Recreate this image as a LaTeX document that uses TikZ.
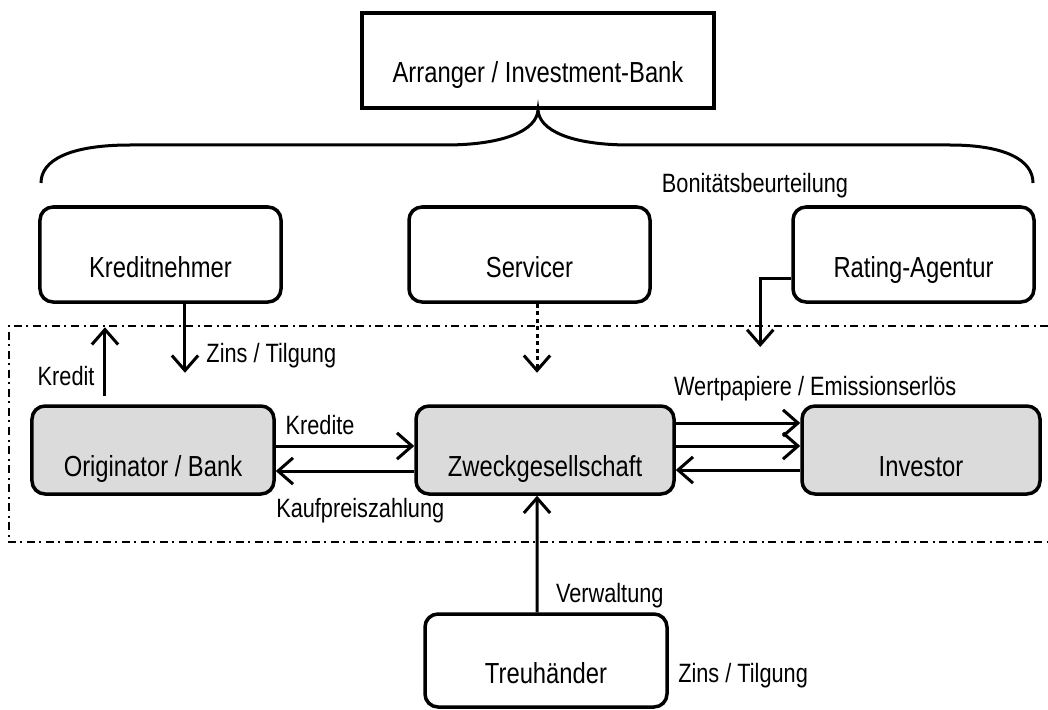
\documentclass[tikz,border=0pt]{standalone}
\usepackage{fontspec}
\setmainfont{Liberation Sans}[FakeStretch=0.82]
\usepackage{tikz}
\usetikzlibrary{arrows.meta, positioning}
\definecolor{boxgray}{gray}{0.86}

\begin{document}
\begin{tikzpicture} [node distance = 3cm, on grid,
   box/.style = {draw, line width=1.4pt, rounded corners=5.2pt, inner sep=0pt,
                 minimum width=96.4pt, minimum height=38pt,
                 font=\fontsize{11.6pt}{13pt}\selectfont, text height=18pt, text depth=0pt},
   graybox/.style = {box, fill=boxgray, minimum height=35.2pt, text height=21pt},
   lbl/.style = {font=\fontsize{10.6pt}{12pt}\selectfont, inner sep=2pt},
   arr/.style = {-{Straight Barb[length=6pt, width=10.5pt]}, line width=1.2pt}]
   \useasboundingbox (-218pt,-103.6pt) rectangle (201.2pt,180pt);

   \node (zweck)[graybox, minimum width=103.2pt] at (0,0) {Zweckgesellschaft};
   \node (originator)[graybox, minimum width=96.8pt, left = 156.8pt of zweck] {Originator / Bank};
   \node (investor)[graybox, minimum width=95.2pt, right = 150.4pt of zweck] {Investor};
   \node (servicer)[box, above = 78.2pt of zweck, xshift=-6.2pt] {Servicer};
   \node (kreditnehmer)[box, left = 147.6pt of servicer] {Kreditnehmer};
   \node (rating)[box, right = 153.6pt of servicer] {Rating-Agentur};
   \node (arranger)[box, sharp corners, minimum width=140.8pt, above = 77.6pt of servicer, xshift=3.4pt] {Arranger / Investment-Bank};
   \node (treuhaender)[box, minimum width=96.8pt, minimum height=37.2pt, below = 84.2pt of zweck, xshift=0.4pt] {Treuhänder};

   % brace under the arranger
   \draw[line width=1.2pt] (-201.6pt,106.8pt) .. controls (-201.6pt,116pt) and (-190pt,122pt) .. (-166pt,122pt)
      -- (-40pt,122pt) .. controls (-16pt,122pt) and (-3.2pt,128pt) .. (arranger.south)
      .. controls (-2.4pt,128pt) and (10pt,122pt) .. (34pt,122pt)
      -- (162pt,122pt) .. controls (184pt,122pt) and (195.2pt,116pt) .. (195.2pt,106.8pt);
   \node (bonilbl)[lbl] at (84pt,105.6pt) {Bonitätsbeurteilung};

   % dash-dot frame
   \draw[line width=0.6pt, dash pattern=on 3.2pt off 1.8pt on 0.8pt off 1.8pt]
      (201.2pt,49.6pt) -- (-214.4pt,49.6pt) -- (-214.4pt,-36.8pt) -- (201.2pt,-36.8pt);

   \coordinate (kreditend) at ([shift={(-19.2pt,30.8pt)}]originator.north);
   \coordinate (zinsend) at ([shift={(9.8pt,-27.6pt)}]kreditnehmer.south);
   \coordinate (servend) at ([shift={(3pt,-27.6pt)}]servicer.south);
   \coordinate (ratingend) at ([shift={(-12.4pt,-37pt)}]rating.west);

   \path[arr]([shift={(-19.2pt,3.2pt)}]originator.north) edge node[lbl, left, pos=0.3, xshift=-1.6pt]{Kredit} (kreditend);
   \path[arr]([xshift=9.8pt]kreditnehmer.south) edge node[lbl, right, pos=0.75, xshift=6pt]{Zins / Tilgung} (zinsend);
   \path[arr, dash pattern=on 1.5pt off 1.5pt]([xshift=3pt]servicer.south) edge (servend);
   \draw[arr]([yshift=-9.4pt]rating.west) -| (ratingend);

   \path[arr]([yshift=1.6pt]originator.east) edge node[lbl, above, pos=0.32, yshift=2pt]{Kredite} ([yshift=1.6pt]zweck.west);
   \path[arr]([yshift=-8.4pt]zweck.west) edge node[lbl, below, pos=0.39, yshift=-8.4pt]{Kaufpreiszahlung} ([yshift=-8.4pt]originator.east);
   \path[arr]([yshift=10.8pt]zweck.east) edge node[lbl, above, pos=1.12, yshift=6.3pt]{Wertpapiere / Emissionserlös} ([yshift=10.8pt]investor.west);
   \path[arr]([yshift=1.6pt]zweck.east) edge ([yshift=1.6pt]investor.west);
   \path[arr]([yshift=-8pt]investor.west) edge ([yshift=-8pt]zweck.east);
   \path[arr]([xshift=-3.6pt]treuhaender.north) edge node[lbl, right, pos=0.16, xshift=5pt, yshift=-1pt]{Verwaltung} ([xshift=-3.2pt]zweck.south);

   \node (zinslbl)[lbl, anchor=west] at ([shift={(1.6pt,-6pt)}]treuhaender.east) {Zins / Tilgung};
\end{tikzpicture}
\end{document}
